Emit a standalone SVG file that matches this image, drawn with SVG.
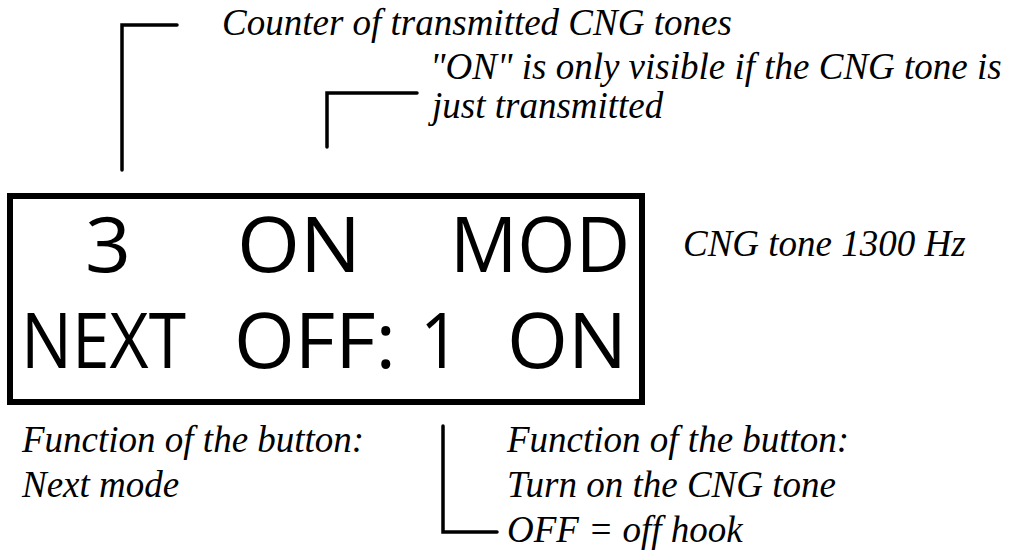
<svg xmlns="http://www.w3.org/2000/svg" width="1031" height="559" viewBox="0 0 1031 559">
<style>
.lcd{font-family:"Open Sans","DejaVu Sans",sans-serif;font-size:77px;fill:#000}
.note{font-family:"Liberation Serif","Times New Roman",serif;font-style:italic;font-size:37px;fill:#000}
.ln{fill:none;stroke:#000;stroke-width:3.5;stroke-linecap:round;stroke-linejoin:miter}
</style>
<rect width="1031" height="559" fill="#fff"/>
<g id="display">
<rect x="10" y="196" width="632" height="206" fill="none" stroke="#000" stroke-width="6"/>
<text class="lcd" x="85" y="272" textLength="46" lengthAdjust="spacingAndGlyphs">3</text>
<text class="lcd" x="237" y="272" textLength="124" lengthAdjust="spacingAndGlyphs">ON</text>
<text class="lcd" x="450" y="272" textLength="180" lengthAdjust="spacingAndGlyphs">MOD</text>
<text class="lcd" x="21" y="368" textLength="165" lengthAdjust="spacingAndGlyphs">NEXT</text>
<text class="lcd" x="234" y="368" textLength="162" lengthAdjust="spacingAndGlyphs">OFF:</text>
<text class="lcd" x="420" y="368" textLength="40" lengthAdjust="spacingAndGlyphs">1</text>
<text class="lcd" x="507" y="368" textLength="120" lengthAdjust="spacingAndGlyphs">ON</text>
</g>
<g id="label-counter"><text class="note" x="222" y="35">Counter of transmitted CNG tones</text></g>
<g id="label-on"><text class="note" x="430" y="79">"ON" is only visible if the CNG tone is</text><text class="note" x="432" y="118">just transmitted</text></g>
<g id="label-cng"><text class="note" x="683" y="256">CNG tone 1300 Hz</text></g>
<g id="label-next"><text class="note" x="22" y="452">Function of the button:</text><text class="note" x="22" y="497">Next mode</text></g>
<g id="label-off"><text class="note" x="507" y="452">Function of the button:</text><text class="note" x="507" y="497">Turn on the CNG tone</text><text class="note" x="507" y="542">OFF = off hook</text></g>
<g id="connectors">
<path class="ln" d="M122 170 V25 H177"/>
<path class="ln" d="M327 147 V93 H417"/>
<path class="ln" d="M443 426 V532 H497"/>
</g>
</svg>
